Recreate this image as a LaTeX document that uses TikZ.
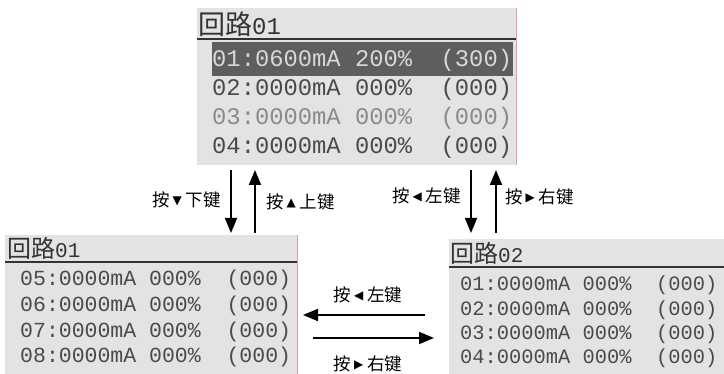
\documentclass[tikz,border=0pt]{standalone}
\usepackage{fontspec}
\usetikzlibrary{arrows.meta}
\newfontfamily\cjk{Noto Sans CJK SC}
\newfontfamily\dv{DejaVu Sans}
\newfontfamily\lcd{Liberation Mono}
\definecolor{panelbg}{HTML}{E3E3E3}
\definecolor{lcdtext}{HTML}{4A4A4A}
\definecolor{lcdlight}{HTML}{8A8A8A}
\definecolor{hlbg}{HTML}{5E5E5E}
\definecolor{hltext}{HTML}{D8D8D8}
\definecolor{edgered}{HTML}{E89A9A}
\tikzset{
  panelbox/.style={fill=panelbg, draw=none},
  underl/.style={draw=black!80, line width=1.4pt},
  rededge/.style={draw=edgered, line width=1pt},
  ttl/.style={anchor=south west, inner sep=0pt, text=black!80},
  rowtxt/.style={anchor=west, inner sep=0pt, text=lcdtext},
  lab/.style={inner sep=0pt, font=\fontsize{17.5}{18}\cjk},
  arr/.style={line width=1.8pt, -{Triangle[length=15pt,width=12pt]}},
}
\newcommand{\ktri}[1]{\hspace{3pt}\raisebox{2.5pt}{\dv\fontsize{12}{12}\selectfont #1}\hspace{4pt}}
\newcommand{\kdown}{\ktri{▼}}
\newcommand{\kup}{\ktri{▲}}
\newcommand{\kleft}{\ktri{◀}}
\newcommand{\kright}{\ktri{▶}}
\begin{document}
\begin{tikzpicture}[x=1pt,y=-1pt]
\useasboundingbox (0,0) rectangle (724,374);

% ---------- top panel ----------
\path[panelbox] (197,8) rectangle (516,165);
\draw[rededge] (516,8) -- (516,165);
\draw[underl] (197,39) -- (516,39);
\node[ttl] (t0) at (198,37) {{\cjk\fontsize{27}{27}\selectfont 回路}{\lcd\fontsize{24}{24}\selectfont 01}};
\path[fill=hlbg] (212,42) rectangle (513,76);
\node[rowtxt, text=hltext, font=\fontsize{23.8}{24}\lcd] (t1) at (212,60) {01:0600mA~200\%~~(300)};
\node[rowtxt, font=\fontsize{23.8}{24}\lcd] (t2) at (212,89) {02:0000mA~000\%~~(000)};
\node[rowtxt, text=lcdlight, font=\fontsize{23.8}{24}\lcd] (t3) at (212,118) {03:0000mA~000\%~~(000)};
\node[rowtxt, font=\fontsize{23.8}{24}\lcd] (t4) at (212,147) {04:0000mA~000\%~~(000)};

% ---------- bottom-left panel ----------
\path[panelbox] (5,235) rectangle (297,374);
\draw[rededge] (297,235) -- (297,374);
\draw[underl] (5,262) -- (297,262);
\node[ttl] (l0) at (7,260) {{\cjk\fontsize{24}{24}\selectfont 回路}{\lcd\fontsize{21}{21}\selectfont 01}};
\node[rowtxt, font=\fontsize{21.5}{22}\lcd] (l1) at (20,280) {05:0000mA~000\%~~(000)};
\node[rowtxt, font=\fontsize{21.5}{22}\lcd] (l2) at (20,306) {06:0000mA~000\%~~(000)};
\node[rowtxt, font=\fontsize{21.5}{22}\lcd] (l3) at (20,332) {07:0000mA~000\%~~(000)};
\node[rowtxt, font=\fontsize{21.5}{22}\lcd] (l4) at (20,357) {08:0000mA~000\%~~(000)};

% ---------- bottom-right panel ----------
\path[panelbox] (449,239) rectangle (724,374);
\draw[underl] (449,267) -- (724,267);
\node[ttl] (r0) at (450,265) {{\cjk\fontsize{24}{24}\selectfont 回路}{\lcd\fontsize{21}{21}\selectfont 02}};
\node[rowtxt, font=\fontsize{20.4}{21}\lcd] (r1) at (460,285) {01:0000mA~000\%~~(000)};
\node[rowtxt, font=\fontsize{20.4}{21}\lcd] (r2) at (460,310) {02:0000mA~000\%~~(000)};
\node[rowtxt, font=\fontsize{20.4}{21}\lcd] (r3) at (460,334) {03:0000mA~000\%~~(000)};
\node[rowtxt, font=\fontsize{20.4}{21}\lcd] (r4) at (460,358) {04:0000mA~000\%~~(000)};

% ---------- arrow end points ----------
\coordinate (a1s) at (231,170); \coordinate (a1e) at (231,233);
\coordinate (a2s) at (255,233); \coordinate (a2e) at (255,170);
\coordinate (a3s) at (471,170); \coordinate (a3e) at (471,233);
\coordinate (a4s) at (496,233); \coordinate (a4e) at (496,170);
\coordinate (a5s) at (425,315); \coordinate (a5e) at (303,315);
\coordinate (a6s) at (313,338); \coordinate (a6e) at (434,338);

\draw[arr] (a1s) -- (a1e);
\draw[arr] (a2s) -- (a2e);
\draw[arr] (a3s) -- (a3e);
\draw[arr] (a4s) -- (a4e);
\draw[arr] (a5s) -- (a5e);
\draw[arr] (a6s) -- (a6e);

% ---------- labels ----------
\node[lab, anchor=east] (k1) at (221,200) {按\kdown 下键};
\node[lab, anchor=west] (k2) at (266,202) {按\kup 上键};
\node[lab, anchor=east] (k3) at (461,196) {按\kleft 左键};
\node[lab, anchor=west] (k4) at (505,197) {按\kright 右键};
\node[lab] (k5) at (368,295) {按\kleft 左键};
\node[lab] (k6) at (368,364) {按\kright 右键};
\end{tikzpicture}
\end{document}
